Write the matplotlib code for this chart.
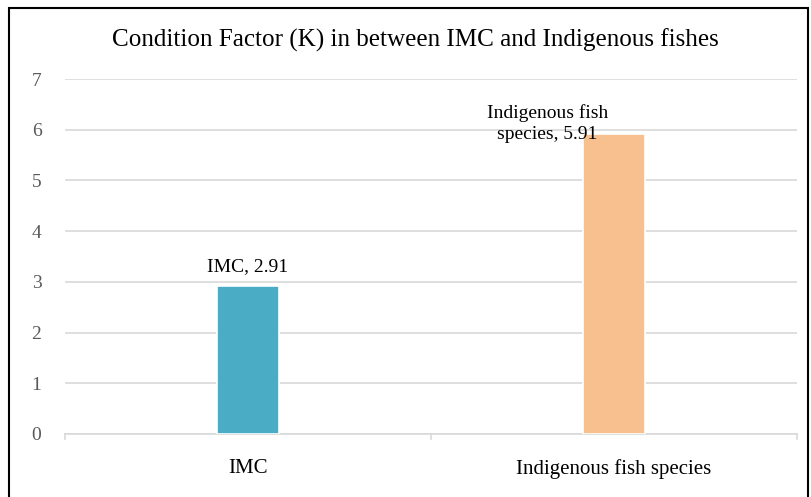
import matplotlib.pyplot as plt
from matplotlib.patches import Rectangle

categories = ["IMC", "Indigenous fish species"]
values = [2.91, 5.91]
point_labels = ["IMC, 2.91", "Indigenous fish\nspecies, 5.91"]
colors = ["#4BACC6", "#F9C08F"]
yticks = [0, 1, 2, 3, 4, 5, 6, 7]

plt.rcParams['font.family'] = ['Liberation Serif', 'DejaVu Serif']

fig = plt.figure(figsize=(8.11, 4.97), dpi=100)
ax = fig.add_axes([65 / 811, 1 - 434 / 497, (797 - 65) / 811, (434 - 79) / 497])

x = list(range(len(categories)))
ax.bar(x, values, width=0.17, color=colors, edgecolor="white", linewidth=1.2, zorder=3)

ax.set_xlim(-0.5, 1.5)
ax.set_ylim(0, 7)
ax.set_yticks(yticks)
ax.set_yticklabels([str(t) for t in yticks], color="#595959", fontsize=14)
ax.set_xticks(x)
ax.set_xticklabels(categories, fontsize=15, color="black")
ax.tick_params(axis="y", length=0, pad=17)
ax.tick_params(axis="x", length=0, pad=18)

# category separators on the x axis
for xb in [-0.5, 0.5, 1.5]:
    ax.plot([xb, xb], [0, -0.1], color="#D9D9D9", lw=1.2, clip_on=False, zorder=2)

ax.grid(axis="y", color="#D9D9D9", lw=1.2, zorder=0)
for s in ["top", "right", "left"]:
    ax.spines[s].set_visible(False)
ax.spines["bottom"].set_color("#D9D9D9")
ax.spines["bottom"].set_linewidth(1.2)

# data labels
ax.annotate(point_labels[0], (x[0], values[0]), xytext=(0, 8), textcoords="offset points",
            ha="center", va="bottom", fontsize=14)
ax.annotate(point_labels[1], (x[1], values[1]), xytext=(-48, -6), textcoords="offset points",
            ha="center", va="bottom", fontsize=14, linespacing=1.3)

fig.text(415 / 811, 1 - 40 / 497, "Condition Factor (K) in between IMC and Indigenous fishes",
         ha="center", va="center", fontsize=18.1)

# outer frame
fig.patches.append(Rectangle((9 / 811, -0.02), 799 / 811, 1 - 8 / 497 + 0.02,
                             transform=fig.transFigure, fill=False, edgecolor="black", lw=1.5))

fig.savefig("out.png", dpi=100)
